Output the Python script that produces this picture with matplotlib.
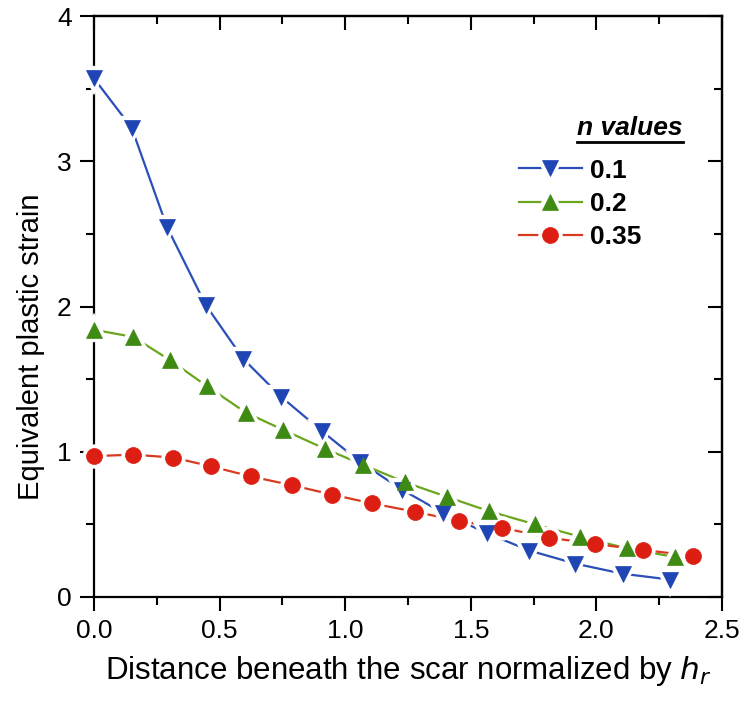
import matplotlib
matplotlib.use("Agg")
import matplotlib.pyplot as plt
from matplotlib.legend_handler import HandlerTuple

plt.rcParams['font.family'] = ['Liberation Sans', 'DejaVu Sans']

# Data
x_n01 = [0.0, 0.15, 0.29, 0.445, 0.594, 0.744, 0.909, 1.059, 1.225, 1.388, 1.563, 1.733, 1.915, 2.105, 2.293]
y_n01 = [3.57, 3.23, 2.55, 2.01, 1.64, 1.38, 1.14, 0.93, 0.74, 0.58, 0.44, 0.32, 0.23, 0.16, 0.12]

x_n02 = [0.0, 0.157, 0.303, 0.451, 0.604, 0.754, 0.92, 1.072, 1.238, 1.404, 1.574, 1.756, 1.935, 2.121, 2.313]
y_n02 = [1.84, 1.79, 1.63, 1.45, 1.27, 1.15, 1.02, 0.91, 0.79, 0.69, 0.59, 0.50, 0.415, 0.335, 0.275]

x_n035 = [0.0, 0.157, 0.316, 0.464, 0.625, 0.787, 0.948, 1.105, 1.278, 1.454, 1.623, 1.813, 1.994, 2.184, 2.383]
y_n035 = [0.97, 0.98, 0.96, 0.90, 0.83, 0.77, 0.705, 0.645, 0.587, 0.523, 0.477, 0.408, 0.365, 0.324, 0.284]

labels = ['0.1', '0.2', '0.35']
legend_title = 'n values'
xlabel_text = 'Distance beneath the scar normalized by $h_r$'
ylabel_text = 'Equivalent plastic strain'
xticks = [0.0, 0.5, 1.0, 1.5, 2.0, 2.5]
yticks = [0, 1, 2, 3, 4]

series = [
    (x_n01, y_n01, 'v', '#1f44b4', '#2a4fb8'),
    (x_n02, y_n02, '^', '#3f8a12', '#6aa61e'),
    (x_n035, y_n035, 'o', '#dc1f12', '#d83a20'),
]

fig = plt.figure(figsize=(7.44, 7.10), dpi=100)
ax = fig.add_axes([94/744, 1-597/710, (722-94)/744, (597-16)/710])

handles = []
for (xs, ys, mk, mcol, lcol) in series:
    ms = 12 if mk != 'o' else 11.5
    ln, = ax.plot(xs, ys, '-', color=lcol, lw=1.6, zorder=2, clip_on=False)
    wm, = ax.plot(xs, ys, mk, ls='none', ms=ms, mfc='white', mec='white', mew=6, zorder=3, clip_on=False)
    cm, = ax.plot(xs, ys, mk, ls='none', ms=ms, mfc=mcol, mec=mcol, mew=0.5, zorder=4, clip_on=False)
    handles.append((ln, wm, cm))

ax.set_xlim(0, 2.5)
ax.set_ylim(0, 4)
ax.set_xticks(xticks)
ax.set_xticklabels([f'{v:.1f}' for v in xticks])
ax.set_yticks(yticks)
ax.set_yticklabels([str(v) for v in yticks])
ax.set_xticks([0.25, 0.75, 1.25, 1.75, 2.25], minor=True)
ax.set_yticks([0.5, 1.5, 2.5, 3.5], minor=True)

for sp in ax.spines.values():
    sp.set_linewidth(1.6)

ax.tick_params(which='major', direction='out', length=10, width=1.5, labelsize=19, pad=6)
ax.tick_params(which='minor', direction='out', length=5.5, width=1.5)

# opposite axes with inward ticks, no labels
top = ax.secondary_xaxis('top')
top.set_xticks(xticks)
top.set_xticks([0.25, 0.75, 1.25, 1.75, 2.25], minor=True)
top.tick_params(which='major', direction='in', length=10, width=1.5, labeltop=False)
top.tick_params(which='minor', direction='in', length=5.5, width=1.5)
top.spines['top'].set_linewidth(1.6)
right = ax.secondary_yaxis('right')
right.set_yticks(yticks)
right.set_yticks([0.5, 1.5, 2.5, 3.5], minor=True)
right.tick_params(which='major', direction='in', length=10, width=1.5, labelright=False)
right.tick_params(which='minor', direction='in', length=5.5, width=1.5)
right.spines['right'].set_linewidth(1.6)

ax.set_xlabel(xlabel_text, fontsize=22.5, labelpad=8)
ax.set_ylabel(ylabel_text, fontsize=21)
ax.yaxis.set_label_coords(-0.078, 0.43)

leg = ax.legend(handles, labels, handler_map={tuple: HandlerTuple(ndivide=1)},
                loc='upper left', bbox_to_anchor=((508-94)/628, (597-148)/581),
                frameon=False, handlelength=2.4, handletextpad=0.3, labelspacing=0.35,
                prop={'weight': 'bold', 'size': 19}, borderaxespad=0)

ax.text((630-94)/628, (597-128)/581, legend_title, transform=ax.transAxes,
        ha='center', va='center', fontsize=19, fontweight='bold', fontstyle='italic')
ax.plot([(577-94)/628, (683-94)/628], [(597-142)/581]*2, transform=ax.transAxes,
        color='black', lw=2, clip_on=False)

fig.savefig('out.png', dpi=100)
